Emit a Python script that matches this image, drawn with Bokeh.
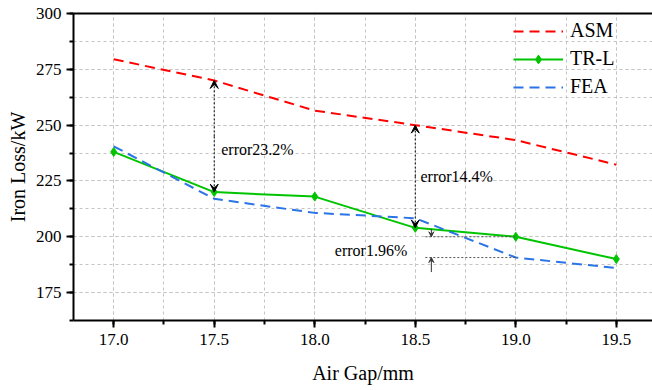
from bokeh.plotting import figure
from bokeh.models import (Range1d, SingleIntervalTicker, PrintfTickFormatter, LinearAxis,
                          FixedTicker, Legend, LegendItem, Arrow, VeeHead, Label)
from bokeh.embed import file_html
from bokeh.resources import INLINE

air_gap = [17.0, 17.5, 18.0, 18.5, 19.0, 19.5]
asm = [279.5, 270.0, 256.5, 250.0, 243.3, 232.3]
trl = [238.0, 220.0, 218.0, 204.0, 200.0, 190.0]
fea = [240.5, 217.0, 210.7, 208.3, 190.7, 186.0]
series_names = ["ASM", "TR-L", "FEA"]
error_labels = ["error23.2%", "error14.4%", "error1.96%"]

FONT = "'Liberation Serif', 'Times New Roman', serif"
RED = "#ff0000"
GREEN = "#00c400"
BLUE = "#2a74e6"

p = figure(width=652, height=390, output_backend="svg", toolbar_location=None,
           x_range=Range1d(16.8, 19.68), y_range=Range1d(162.5, 300),
           min_border_left=73, min_border_right=0, min_border_top=13, min_border_bottom=70)
p.outline_line_color = None
p.background_fill_color = "white"
p.border_fill_color = "white"

for ax in (p.xaxis[0], p.yaxis[0]):
    ax.axis_line_width = 2
    ax.axis_line_color = "black"
    ax.major_tick_line_width = 2
    ax.minor_tick_line_width = 2
    ax.major_tick_in = 0
    ax.major_tick_out = 7
    ax.minor_tick_in = 0
    ax.minor_tick_out = 4
    ax.major_label_text_font = FONT
    ax.major_label_text_font_size = "17px"
    ax.major_label_text_color = "black"
    ax.axis_label_text_font = FONT
    ax.axis_label_text_font_size = "20px"
    ax.axis_label_text_font_style = "normal"
    ax.axis_label_text_color = "black"

p.xaxis.ticker = SingleIntervalTicker(interval=0.5, num_minor_ticks=2)
p.yaxis.ticker = SingleIntervalTicker(interval=25, num_minor_ticks=2)
p.xaxis.formatter = PrintfTickFormatter(format="%.1f")
p.yaxis.formatter = PrintfTickFormatter(format="%d")
p.xaxis.axis_label = "Air Gap/mm"
p.yaxis.axis_label = "Iron Loss/kW"
p.xaxis.major_label_standoff = 6
p.yaxis.major_label_standoff = 5
p.xaxis.axis_label_standoff = 14
p.yaxis.axis_label_standoff = 4

top_axis = LinearAxis(ticker=FixedTicker(ticks=[]), axis_line_width=2,
                      major_label_text_font_size="0px", major_tick_line_color=None,
                      minor_tick_line_color=None)
p.add_layout(top_axis, "above")

for g in (p.xgrid[0], p.ygrid[0]):
    g.grid_line_color = "#c4c4c4"
    g.grid_line_dash = "3 3"
    g.grid_line_width = 1
    g.minor_grid_line_color = "#c4c4c4"
    g.minor_grid_line_dash = "3 3"
    g.minor_grid_line_width = 1

r_asm = p.line(air_gap, asm, line_color=RED, line_width=2, line_dash="10 6")
r_trl = p.line(air_gap, trl, line_color=GREEN, line_width=2)
r_trl_pts = p.scatter(air_gap, trl, marker="diamond", size=9, fill_color=GREEN, line_color=GREEN)
r_fea = p.line(air_gap, fea, line_color=BLUE, line_width=2, line_dash="10 6")

legend = Legend(items=[LegendItem(label=series_names[0], renderers=[r_asm]),
                       LegendItem(label=series_names[1], renderers=[r_trl, r_trl_pts]),
                       LegendItem(label=series_names[2], renderers=[r_fea])],
                location=(440, 222), background_fill_alpha=0, border_line_color=None,
                padding=0, margin=0, spacing=5, glyph_width=50, glyph_height=22,
                label_height=22, label_standoff=7, label_text_font=FONT,
                label_text_font_size="20px", label_text_color="black")
p.add_layout(legend)

def head(size, color="black"):
    return VeeHead(size=size, fill_color=color, line_color=color, line_width=1)

def dbl_arrow(x, y0, y1):
    mid = (y0 + y1) / 2
    for yy in (y0, y1):
        p.add_layout(Arrow(x_start=x, y_start=mid, x_end=x, y_end=yy,
                           line_dash="2 2", line_width=1, line_color="black", end=head(8)))

dbl_arrow(air_gap[1], asm[1], trl[1])
dbl_arrow(air_gap[3], asm[3], trl[3])

xa = 18.58
p.segment(x0=[18.55, 18.55], y0=[trl[4], fea[4]], x1=[air_gap[4], air_gap[4]], y1=[trl[4], fea[4]],
          line_color="#555555", line_dash="2 2", line_width=1)
p.add_layout(Arrow(x_start=xa, y_start=trl[4] + 3.5, x_end=xa, y_end=trl[4], line_width=1,
                   line_color="#333333", end=head(5, "#333333")))
p.add_layout(Arrow(x_start=xa, y_start=fea[4] - 6.5, x_end=xa, y_end=fea[4], line_width=1,
                   line_color="#333333", end=head(5, "#333333")))

for x, y, t, align in [(17.535, 239.1, error_labels[0], "left"),
                       (18.526, 227.0, error_labels[1], "left"),
                       (18.46, 193.8, error_labels[2], "right")]:
    p.add_layout(Label(x=x, y=y, text=t, text_align=align, text_baseline="middle",
                       text_font=FONT, text_font_size="16px", text_color="black"))

open("out.html", "w").write(file_html(p, INLINE))
